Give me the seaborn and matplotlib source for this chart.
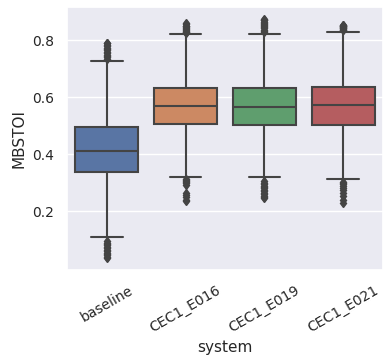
import pandas as pd
import matplotlib
matplotlib.use('Agg')
import matplotlib.pyplot as plt
import seaborn as sns

systems = ['baseline', 'CEC1_E016', 'CEC1_E019', 'CEC1_E021']

baseline = [0.036, 0.040, 0.045, 0.050, 0.055, 0.060, 0.065, 0.070, 0.075, 0.080,
            0.085, 0.090, 0.095, 0.108, 0.200, 0.300,
            0.337,
            0.340, 0.345, 0.350, 0.355, 0.360, 0.365, 0.370, 0.375, 0.380,
            0.385, 0.390, 0.395, 0.400, 0.405, 0.410,
            0.413,
            0.418, 0.424, 0.430, 0.436, 0.442, 0.448, 0.454, 0.460, 0.466,
            0.472, 0.478, 0.484, 0.488, 0.490, 0.492,
            0.495,
            0.550, 0.650, 0.727, 0.735, 0.740, 0.745, 0.750, 0.755, 0.760,
            0.765, 0.770, 0.775, 0.780, 0.785, 0.790, 0.792]

cec1_e016 = [0.235, 0.240, 0.250, 0.258, 0.265, 0.294, 0.298, 0.302, 0.306, 0.310,
             0.314, 0.321, 0.380, 0.420, 0.460, 0.490,
             0.507,
             0.510, 0.514, 0.518, 0.522, 0.526, 0.530, 0.534, 0.538, 0.542,
             0.546, 0.550, 0.554, 0.558, 0.562, 0.566,
             0.569,
             0.572, 0.576, 0.580, 0.584, 0.588, 0.592, 0.596, 0.600, 0.604,
             0.608, 0.612, 0.616, 0.620, 0.624, 0.628,
             0.633,
             0.680, 0.720, 0.760, 0.821, 0.825, 0.828, 0.831, 0.834, 0.837,
             0.840, 0.843, 0.846, 0.849, 0.852, 0.856, 0.860]

cec1_e019 = [0.245, 0.250, 0.255, 0.260, 0.265, 0.270, 0.275, 0.280, 0.285, 0.290,
             0.295, 0.300, 0.305, 0.319, 0.400, 0.460,
             0.504,
             0.507, 0.511, 0.515, 0.519, 0.523, 0.527, 0.531, 0.535, 0.539,
             0.543, 0.547, 0.551, 0.555, 0.559, 0.563,
             0.567,
             0.572, 0.576, 0.580, 0.584, 0.588, 0.592, 0.596, 0.600, 0.604,
             0.608, 0.612, 0.616, 0.620, 0.624, 0.628,
             0.633,
             0.700, 0.760, 0.824, 0.830, 0.834, 0.838, 0.842, 0.846, 0.850,
             0.854, 0.858, 0.862, 0.866, 0.870, 0.873, 0.876]

cec1_e021 = [0.229, 0.240, 0.255, 0.265, 0.275, 0.283, 0.290, 0.295, 0.300, 0.304,
             0.312, 0.360, 0.400, 0.440, 0.470, 0.490,
             0.504,
             0.507, 0.512, 0.517, 0.522, 0.527, 0.532, 0.537, 0.542, 0.547,
             0.552, 0.557, 0.562, 0.566, 0.569, 0.571,
             0.573,
             0.576, 0.580, 0.584, 0.588, 0.592, 0.596, 0.600, 0.604, 0.608,
             0.612, 0.616, 0.620, 0.624, 0.628, 0.632,
             0.636,
             0.680, 0.720, 0.770, 0.829, 0.836, 0.838, 0.840, 0.842, 0.844,
             0.846, 0.848, 0.850, 0.851, 0.852, 0.853, 0.853]

scores = {'baseline': baseline, 'CEC1_E016': cec1_e016,
          'CEC1_E019': cec1_e019, 'CEC1_E021': cec1_e021}

rows = [(s, v) for s in systems for v in scores[s]]
df = pd.DataFrame(rows, columns=['system', 'MBSTOI'])

sns.set_theme(style='darkgrid')
plt.rcParams['font.family'] = ['DejaVu Sans']

fig, ax = plt.subplots(figsize=(3.83, 3.58), dpi=100)
fig.subplots_adjust(left=0.176, right=0.999, top=0.981, bottom=0.246)

sns.boxplot(data=df, x='system', y='MBSTOI', hue='system', order=systems,
            palette='deep', legend=False, linecolor='#444444', linewidth=1.5,
            fliersize=4.5, ax=ax)
for line in ax.lines:
    line.set_markerfacecolor('#444444')
    line.set_markeredgecolor('#444444')
    if line.get_marker() not in (None, '', 'None'):
        line.set_marker('d')

ax.set_yticks([0.2, 0.4, 0.6, 0.8])
ax.tick_params(axis='both', labelsize=10)
ax.tick_params(axis='x', labelrotation=30)
ax.set_xlabel('system', fontsize=11, labelpad=4)
ax.set_ylabel('MBSTOI', fontsize=11)

fig.savefig('out.png', dpi=100)
